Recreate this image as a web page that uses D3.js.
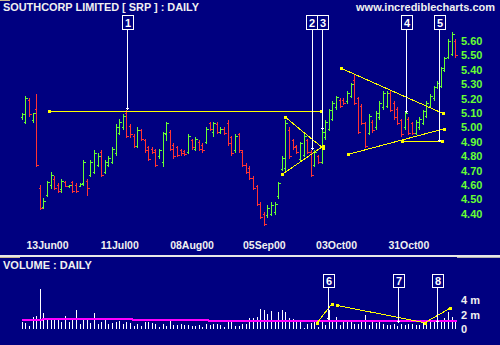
<!DOCTYPE html>
<html><head><meta charset="utf-8">
<script src="https://cdn.jsdelivr.net/npm/d3@7"></script>
<style>body{margin:0;background:#000080;} svg{display:block;}</style>
</head><body>
<script>
// ---------- DATA ----------
const tickLabels = ["13Jun00","11Jul00","08Aug00","05Sep00","03Oct00","31Oct00"];
const tickIdx = [7,27,47,67,87,107];
const priceTicks = [5.6,5.5,5.4,5.3,5.2,5.1,5.0,4.9,4.8,4.7,4.6,4.5,4.4];
const volTicks = [4,2,0];
const volTickLabels = ["4 m","2 m","0"];

const high = [5.10,5.22,5.20,5.10,5.23,4.60,4.51,4.63,4.69,4.66, 4.61,4.64,4.63,4.60,4.63,4.61,4.61,4.77,4.64,4.77,
 4.84,4.82,4.84,4.77,4.80,4.86,5.02,5.06,5.09,5.12, 5.02,4.95,5.00,4.99,4.92,4.87,4.86,4.85,4.85,4.97,
 5.04,4.98,4.89,4.87,4.85,4.84,4.95,4.92,4.93,4.91, 4.89,5.00,5.04,5.04,5.04,5.00,5.00,5.05,4.94,4.95,
 4.96,4.84,4.75,4.73,4.66,4.60,4.48,4.41,4.46,4.48, 4.48,4.62,4.80,5.05,5.00,4.92,4.88,4.90,4.95,4.92,
 4.84,4.84,4.81,4.98,5.05,5.13,5.18,5.22,5.20,5.20, 5.25,5.31,5.36,5.21,5.16,5.04,5.09,5.05,5.11,5.18,
 5.25,5.25,5.25,5.18,5.14,5.06,5.11,5.07,5.04,5.05, 5.07,5.12,5.18,5.23,5.29,5.32,5.42,5.49,5.61,5.66,
 5.61];
const low = [5.06,5.03,5.08,5.04,4.73,4.43,4.44,4.52,4.58,4.57, 4.55,4.55,4.59,4.585,4.55,4.55,4.59,4.60,4.53,4.66,
 4.68,4.73,4.66,4.68,4.73,4.75,4.81,4.95,4.99,4.93, 4.93,4.86,4.86,4.91,4.83,4.77,4.82,4.73,4.79,4.73,
 4.91,4.84,4.79,4.80,4.81,4.81,4.82,4.85,4.84,4.84, 4.83,4.89,4.98,4.94,4.96,4.96,4.95,4.88,4.81,4.83,
 4.83,4.73,4.68,4.64,4.57,4.46,4.37,4.32,4.38,4.39, 4.40,4.51,4.70,4.70,4.79,4.85,4.82,4.77,4.80,4.82,
 4.66,4.73,4.75,4.75,4.92,4.98,5.05,5.13,5.14,5.16, 5.17,5.21,5.16,4.96,5.02,4.86,4.95,4.97,4.99,5.06,
 5.13,5.14,5.11,5.06,5.02,4.94,4.99,4.95,4.95,4.95, 4.99,5.02,5.07,5.14,5.19,5.27,5.28,5.39,5.48,5.50,
 5.49];
const open = [5.07,5.04,5.19,5.05,5.13,4.58,4.45,4.53,4.60,4.64, 4.60,4.57,4.62,4.59,4.62,4.60,4.595,4.61,4.63,4.67,
 4.69,4.74,4.83,4.69,4.74,4.76,4.82,4.96,5.00,5.10, 5.01,4.94,4.87,4.98,4.91,4.86,4.85,4.84,4.80,4.76,
 4.95,4.97,4.88,4.86,4.84,4.835,4.83,4.91,4.85,4.90, 4.88,4.90,5.03,4.97,5.02,4.97,4.99,5.03,4.93,4.84,
 4.95,4.83,4.74,4.72,4.65,4.59,4.47,4.40,4.39,4.40, 4.41,4.52,4.71,4.72,4.98,4.91,4.87,4.78,4.81,4.91,
 4.83,4.74,4.80,4.76,4.93,4.99,5.06,5.14,5.19,5.19, 5.18,5.22,5.33,5.20,5.15,5.03,4.96,5.04,5.00,5.07,
 5.14,5.15,5.24,5.17,5.13,5.05,5.00,5.06,5.03,4.96, 5.00,5.03,5.08,5.15,5.20,5.28,5.29,5.40,5.49,5.51,
 5.60];
const close = [5.09,5.20,5.09,5.10,4.74,4.44,4.49,4.62,4.67,4.58, 4.56,4.63,4.59,4.60,4.56,4.56,4.605,4.76,4.58,4.76,
 4.82,4.80,4.67,4.76,4.79,4.85,5.00,5.04,5.08,4.94, 4.95,4.87,4.98,4.92,4.84,4.78,4.83,4.74,4.84,4.96,
 5.03,4.85,4.80,4.81,4.82,4.815,4.94,4.86,4.92,4.85, 4.84,4.99,4.99,5.03,4.97,4.99,4.96,4.89,4.82,4.94,
 4.84,4.74,4.69,4.65,4.58,4.47,4.38,4.33,4.44,4.46, 4.47,4.61,4.79,5.03,4.80,4.86,4.83,4.89,4.94,4.83,
 4.67,4.83,4.76,4.97,5.04,5.12,5.17,5.21,5.15,5.17, 5.24,5.30,5.17,4.97,5.03,4.87,5.08,4.98,5.10,5.17,
 5.24,5.24,5.12,5.07,5.03,4.95,5.10,4.96,4.96,5.04, 5.06,5.11,5.17,5.22,5.28,5.31,5.41,5.48,5.60,5.65,
 5.50];
const volume = [1.02,0.80,0.46,1.63,1.82,5.59,2.28,1.35,1.35,1.35, 1.35,1.02,1.82,1.02,1.35,2.66,0.70,1.35,1.35,0.88,
 2.28,0.70,1.02,1.35,0.70,0.80,1.02,1.12,0.70,1.02, 0.80,0.46,0.70,0.46,1.02,1.02,0.80,0.70,0.33,0.70,
 0.46,1.12,0.56,0.56,0.70,0.56,0.56,0.46,0.46,0.56, 0.33,0.70,0.56,0.70,0.70,0.56,0.33,1.02,1.02,0.46,
 0.46,0.70,0.74,1.49,1.58,1.72,2.80,2.70,2.05,2.52, 1.02,2.42,2.66,2.33,1.58,1.40,1.12,1.02,0.10,0.65,
 0.80,1.02,0.33,1.26,0.56,2.61,1.26,1.72,0.56,1.16, 1.02,1.12,0.65,0.65,1.02,1.96,0.56,1.02,0.80,1.12,
 0.65,0.56,0.56,0.65,0.46,0.74,0.56,0.65,0.65,0.56, 0.56,0.80,0.74,1.12,1.02,0.94,1.02,1.49,2.33,1.72,
 1.02];
// volume moving average (step line)
const maIdx = [0, 5.5, 30.6, 51.5, 120.3];
const maVal = [1.26, 1.40, 1.22, 1.12, 1.12];

// trend lines on price panel (bar index, price)
const trendX1 = [7.64, 73.0, 72.13, 88.38, 90.4, 105.34];
const trendP1 = [5.1125, 5.069, 4.674, 5.41, 4.8125, 4.903];
const trendX2 = [82.92, 83.5, 83.5, 116.5, 116.97, 116.4];
const trendP2 = [5.1125, 4.853, 4.87, 5.097, 4.99, 4.903];
// trend lines on volume panel (bar index, volume in millions)
const vTrendX1 = [81.65, 87.35, 111.6];
const vTrendV1 = [0.80, 3.29, 0.88];
const vTrendX2 = [85.75, 111.6, 118.5];
const vTrendV2 = [3.45, 0.88, 2.9];

// annotation markers
const pmLabel = ["1","2","3","4","5"];
const pmIdx = [29.15, 80.43, 83.2, 106.37, 115.58];
const pmTip = [5.136, 4.858, 4.997, 5.113, 4.912];
const vmLabel = ["6","7","8"];
const vmIdx = [84.86, 104.2, 115.0];
const vmTip = [1.5, 1.16, 1.16];

// ---------- DRAW ----------
const W = 500, H = 345;
const FONT = "'Liberation Sans', Arial, sans-serif";
const GREEN = "#66ff33", RED = "#ff3333", YEL = "#ffff00", WHITE = "#ffffff";
const svg = d3.select("body").append("svg").attr("width", W).attr("height", H)
  .attr("font-family", FONT);
svg.append("rect").attr("width", W).attr("height", H).attr("fill", "#000080");

const x = d3.scaleLinear().domain([0, 120]).range([21.7, 455.3]);
const y = d3.scaleLinear().domain([4.4, 5.6]).range([213.7, 40.9]);
const yv = d3.scaleLinear().domain([0, 4]).range([329, 300.4]);
const px = v => Math.round(x(v)) + 0.5;
const py = v => Math.round(y(v)) + 0.5;

// decorations
svg.append("rect").attr("x", 0).attr("y", 0).attr("width", 10).attr("height", 1).attr("fill", "#c8b890");
svg.append("rect").attr("x", 0).attr("y", 255).attr("width", W).attr("height", 2).attr("fill", "#e8e8e8");
svg.append("rect").attr("x", 0).attr("y", 257).attr("width", 20).attr("height", 1).attr("fill", "#c8b890");
svg.append("rect").attr("x", 457).attr("y", 257).attr("width", 43).attr("height", 1).attr("fill", "#b0b0b0");

// titles
svg.append("text").attr("x", 3).attr("y", 10.7).attr("fill", "#f0f0f0")
  .attr("font-size", 11).attr("font-weight", "bold")
  .attr("textLength", 196).attr("lengthAdjust", "spacingAndGlyphs")
  .text("SOUTHCORP LIMITED  [ SRP ] : DAILY");
svg.append("text").attr("x", 495).attr("y", 10.7).attr("fill", "#f0f0f0")
  .attr("font-size", 11).attr("font-weight", "bold").attr("text-anchor", "end")
  .text("www.incrediblecharts.com");
svg.append("text").attr("x", 3).attr("y", 269).attr("fill", "#f0f0f0")
  .attr("font-size", 11).attr("font-weight", "bold")
  .text("VOLUME : DAILY");

// price axis
const yAxis = d3.axisRight(y).tickValues(priceTicks).tickSize(0).tickPadding(0)
  .tickFormat(d3.format(".2f"));
svg.append("g").attr("transform", "translate(461,0)").call(yAxis)
  .call(g => g.select(".domain").remove())
  .call(g => g.selectAll("text").attr("fill", GREEN).attr("font-size", 11)
      .attr("font-weight", "bold").attr("font-family", FONT));

// date axis
const xAxis = d3.axisBottom(x).tickValues(tickIdx).tickSize(0).tickPadding(2)
  .tickFormat((d, i) => tickLabels[i]);
svg.append("g").attr("transform", "translate(0,240)").call(xAxis)
  .call(g => g.select(".domain").remove())
  .call(g => g.selectAll("text").attr("fill", "#f0f0f0").attr("font-size", 10.5)
      .attr("font-weight", "bold").attr("font-family", FONT));

// volume axis
const vAxis = d3.axisRight(yv).tickValues(volTicks).tickSize(0).tickPadding(0)
  .tickFormat((d, i) => volTickLabels[i]);
svg.append("g").attr("transform", "translate(461,0)").call(vAxis)
  .call(g => g.select(".domain").remove())
  .call(g => g.selectAll("text").attr("fill", "#f0f0f0").attr("font-size", 11)
      .attr("font-weight", "bold").attr("font-family", FONT));

// OHLC bars
const bars = svg.append("g").attr("shape-rendering", "crispEdges").attr("fill", "none");
high.forEach((h, i) => {
  const cx = px(i);
  const col = close[i] >= open[i] ? GREEN : RED;
  bars.append("path")
    .attr("d", `M${cx},${Math.round(y(h))}V${Math.round(y(low[i])) + 1}` +
      `M${cx - 2},${py(open[i])}H${cx}M${cx},${py(close[i])}H${cx + 2}`)
    .attr("stroke", col).attr("stroke-width", 1);
});

// volume bars
const vb = svg.append("g").attr("shape-rendering", "crispEdges");
vb.selectAll("rect").data(volume).join("rect")
  .attr("x", (d, i) => Math.round(x(i)))
  .attr("y", d => Math.round(yv(d)))
  .attr("width", 1)
  .attr("height", d => yv(0) - Math.round(yv(d)))
  .attr("fill", WHITE);

// volume MA (drawn as filled step rectangles so it stays visible over bars)
const maG = svg.append("g").attr("shape-rendering", "crispEdges");
for (let i = 0; i < maIdx.length - 1; i++) {
  const x0 = Math.round(x(maIdx[i])), x1 = Math.round(x(maIdx[i + 1]));
  maG.append("rect").attr("x", x0).attr("y", Math.round(yv(maVal[i])) - 1)
    .attr("width", x1 - x0 + 1).attr("height", 2).attr("fill", "#ff00ff");
}

// trend lines
const tl = svg.append("g").attr("shape-rendering", "crispEdges");
function segment(x1, y1, x2, y2) {
  tl.append("line").attr("x1", x1).attr("y1", y1).attr("x2", x2).attr("y2", y2)
    .attr("stroke", YEL).attr("stroke-width", 1);
  [[x1, y1], [x2, y2]].forEach(p => tl.append("rect")
    .attr("x", Math.round(p[0]) - 1.5).attr("y", Math.round(p[1]) - 1.5)
    .attr("width", 3.5).attr("height", 3.5).attr("fill", YEL));
}
trendX1.forEach((k, i) => segment(x(k), y(trendP1[i]), x(trendX2[i]), y(trendP2[i])));
vTrendX1.forEach((k, i) => segment(x(k), yv(vTrendV1[i]), x(vTrendX2[i]), yv(vTrendV2[i])));

// markers
const mk = svg.append("g").attr("shape-rendering", "crispEdges");
function markers(labels, idxs, tips, boxTop, boxH, tipY) {
  const cxs = idxs.map(k => Math.round(x(k)) + 0.5);
  const bw = 11;
  const bl = cxs.map(c => c - bw / 2 - 0.5);
  for (let i = bl.length - 2; i >= 0; i--) {
    if (bl[i] + bw > bl[i + 1]) bl[i] = bl[i + 1] - bw;
  }
  labels.forEach((lab, i) => {
    const ty = Math.round(tipY(tips[i])) + 0.5;
    mk.append("line").attr("x1", cxs[i]).attr("x2", cxs[i])
      .attr("y1", boxTop + boxH).attr("y2", ty + 1).attr("stroke", WHITE);
    mk.append("line").attr("x1", cxs[i] - 1.5).attr("x2", cxs[i] + 1.5)
      .attr("y1", ty).attr("y2", ty).attr("stroke", WHITE);
    mk.append("rect").attr("x", bl[i] + 0.5).attr("y", boxTop + 0.5)
      .attr("width", bw).attr("height", boxH).attr("fill", "#000080")
      .attr("stroke", WHITE).attr("stroke-width", 1);
    svg.append("text").attr("x", bl[i] + 0.5 + bw / 2 + 0.5).attr("y", boxTop + boxH - 2.5)
      .attr("text-anchor", "middle").attr("fill", WHITE).attr("font-size", 11)
      .attr("font-weight", "bold").text(lab);
  });
}
markers(pmLabel, pmIdx, pmTip, 15, 14, y);
markers(vmLabel, vmIdx, vmTip, 274, 13, yv);
</script>
</body></html>
